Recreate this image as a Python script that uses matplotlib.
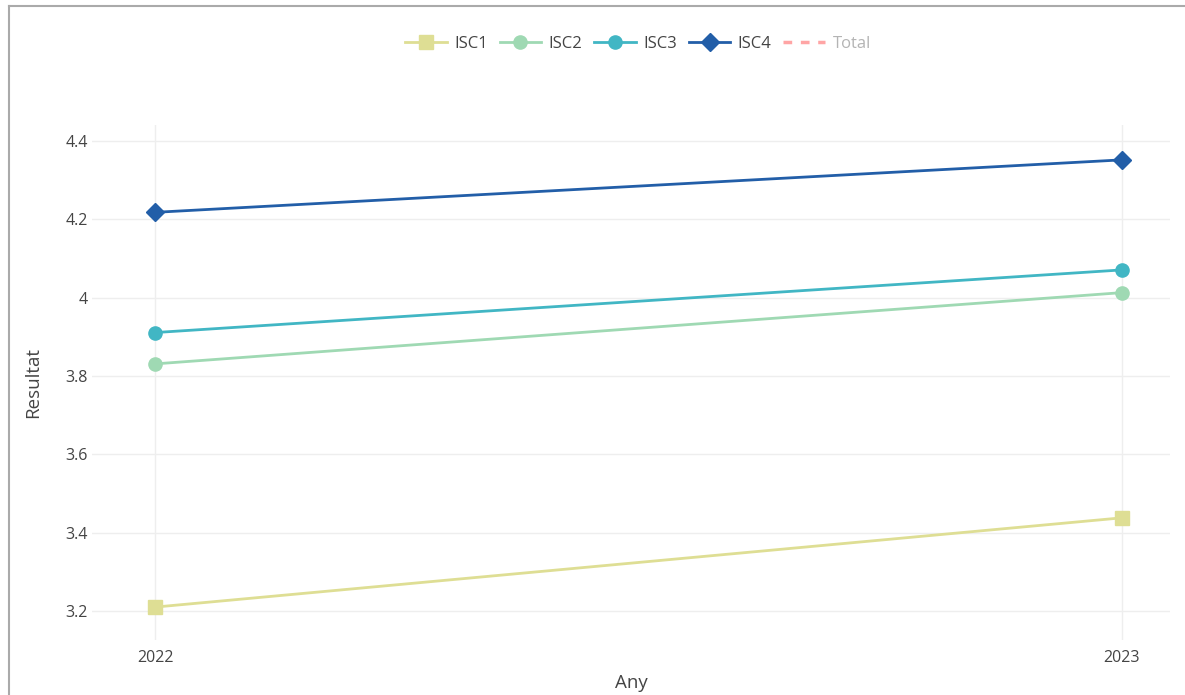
import matplotlib.pyplot as plt
from matplotlib.lines import Line2D

plt.rcParams['font.family'] = ['Open Sans', 'DejaVu Sans']

years = [2022, 2023]
isc1 = [3.210, 3.438]
isc2 = [3.831, 4.013]
isc3 = [3.911, 4.071]
isc4 = [4.218, 4.352]

series = ['ISC1', 'ISC2', 'ISC3', 'ISC4']
colors = ['#dede94', '#9fd9b3', '#41b6c4', '#225ea8']
markers = ['s', 'o', 'o', 'D']
msizes = [9.5, 9.5, 9.5, 9]

yticks = [3.2, 3.4, 3.6, 3.8, 4.0, 4.2, 4.4]
ytick_labels = ['3.2', '3.4', '3.6', '3.8', '4', '4.2', '4.4']

fig = plt.figure(figsize=(11.85, 6.95), dpi=100)
ax = fig.add_axes([92/1185, 1 - 640/695, (1170 - 92)/1185, (640 - 125)/695])

for vals, name, c, m, ms in zip([isc1, isc2, isc3, isc4], series, colors, markers, msizes):
    ax.plot(years, vals, color=c, marker=m, markersize=ms, linewidth=2, label=name)

ax.set_xlim(2022 - 63/967, 2023 + 48/967)
ax.set_ylim(3.126, 4.441)
ax.set_xticks(years)
ax.set_xticklabels([str(y) for y in years])
ax.set_yticks(yticks)
ax.set_yticklabels(ytick_labels)
ax.grid(color='#eeeeee', linewidth=1)
ax.set_axisbelow(True)
for s in ax.spines.values():
    s.set_visible(False)
ax.tick_params(length=0, labelsize=11.5, colors='#444444', pad=7)
ax.tick_params(axis='y', pad=3)
ax.set_xlabel('Any', fontsize=13.5, color='#444444', labelpad=6)
ax.set_ylabel('Resultat', fontsize=13.5, color='#444444', labelpad=17)

handles, labels = ax.get_legend_handles_labels()
handles.append(Line2D([], [], color='#ff7f7f', alpha=0.7, linestyle=(0, (2.5, 2.5)), linewidth=2.5))
labels.append('Total')
leg = fig.legend(handles, labels, loc='center', bbox_to_anchor=(638/1185, 1 - 44/695), ncol=5,
                 frameon=False, fontsize=12, handlelength=2.5, handletextpad=0.45, columnspacing=0.7)
for t in leg.get_texts():
    t.set_color('#444444')
leg.get_texts()[-1].set_color('#b4b4b4')

# outer frame (left and top edges)
fig.add_artist(Line2D([8.5/1185, 8.5/1185], [0, 1 - 5.5/695], color='#aaaaaa', linewidth=1.5))
fig.add_artist(Line2D([8.5/1185, 1], [1 - 5.5/695, 1 - 5.5/695], color='#aaaaaa', linewidth=1.5))

fig.savefig('out.png', dpi=100)
